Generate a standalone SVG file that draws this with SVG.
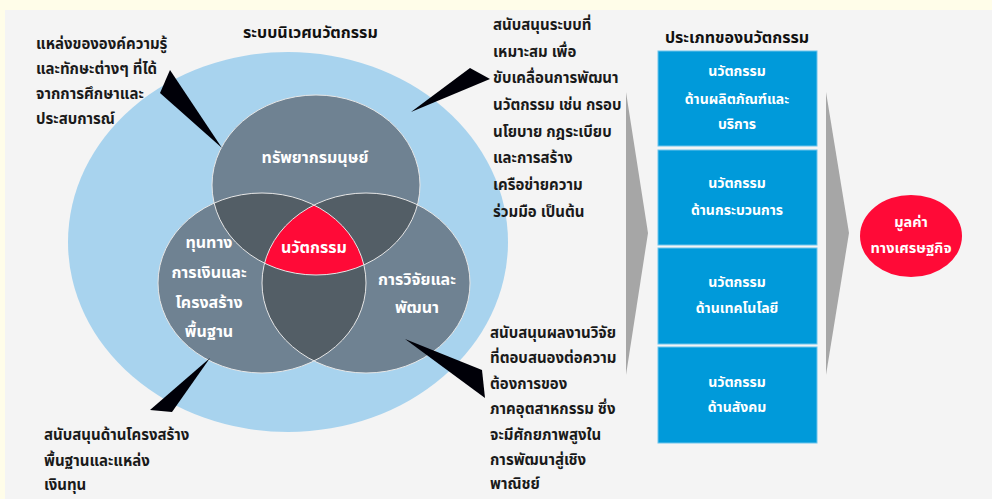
<svg xmlns="http://www.w3.org/2000/svg" width="992" height="499" viewBox="0 0 992 499">
<style>
text{font-family:"Noto Sans Thai","Noto Sans","DejaVu Sans",sans-serif;font-weight:bold;font-size:15px}
.dk{fill:#1a1a1a}
.wt{fill:#ffffff;text-anchor:middle}
.cl{font-size:16px}
.bx{font-size:14px}
.ttl{fill:#111111;font-size:16px}
.box{fill:#009ADA;stroke:#6CC4EC;stroke-width:1}
.circ{fill:#6F8292}
.ov{fill:#535E66}
.edge{fill:none;stroke:#E6E6E6;stroke-width:1}
.wedge{fill:#000008}
.arr{fill:#A6A6A6}
</style>
<defs>
<clipPath id="cT"><ellipse cx="316" cy="185" rx="104" ry="90"/></clipPath>
<clipPath id="cL"><ellipse cx="262" cy="283" rx="104" ry="90"/></clipPath>
<clipPath id="cR"><ellipse cx="366" cy="283" rx="104" ry="90"/></clipPath>
</defs>
<rect x="0" y="0" width="992" height="499" fill="#FFFDE9"/>
<rect x="5" y="10" width="987" height="489" fill="#F4F4F4"/>

<g id="ecosystem">
<ellipse cx="288" cy="242" rx="220" ry="190" fill="#A8D3EE"/>
<text class="ttl" x="243" y="38">ระบบนิเวศนวัตกรรม</text>
</g>

<g id="venn">
<g id="human-resources">
<ellipse class="circ" cx="316" cy="185" rx="104" ry="90"/>
</g>
<g id="finance-infrastructure">
<ellipse class="circ" cx="262" cy="283" rx="104" ry="90"/>
</g>
<g id="research-development">
<ellipse class="circ" cx="366" cy="283" rx="104" ry="90"/>
</g>
<ellipse class="ov" cx="262" cy="283" rx="104" ry="90" clip-path="url(#cT)"/>
<ellipse class="ov" cx="366" cy="283" rx="104" ry="90" clip-path="url(#cT)"/>
<ellipse class="ov" cx="366" cy="283" rx="104" ry="90" clip-path="url(#cL)"/>
<g id="innovation" clip-path="url(#cT)">
<ellipse cx="366" cy="283" rx="104" ry="90" fill="#FF0A37" clip-path="url(#cL)"/>
</g>
<ellipse class="edge" cx="316" cy="185" rx="104" ry="90"/>
<ellipse class="edge" cx="262" cy="283" rx="104" ry="90"/>
<ellipse class="edge" cx="366" cy="283" rx="104" ry="90"/>
<text class="wt cl" x="315" y="163">ทรัพยากรมนุษย์</text>
<text class="wt cl" x="314" y="253">นวัตกรรม</text>
<text class="wt cl" x="209" y="248">ทุนทาง</text>
<text class="wt cl" x="209" y="278">การเงินและ</text>
<text class="wt cl" x="209" y="308">โครงสร้าง</text>
<text class="wt cl" x="209" y="337">พื้นฐาน</text>
<text class="wt cl" x="417" y="285">การวิจัยและ</text>
<text class="wt cl" x="417" y="313">พัฒนา</text>
</g>

<g id="note-knowledge">
<text class="dk" x="36" y="49">แหล่งขององค์ความรู้</text>
<text class="dk" x="36" y="74">และทักษะต่างๆ ที่ได้</text>
<text class="dk" x="36" y="99">จากการศึกษาและ</text>
<text class="dk" x="36" y="124">ประสบการณ์</text>
</g>
<g id="note-system">
<text class="dk" x="493" y="30">สนับสนุนระบบที่</text>
<text class="dk" x="493" y="57">เหมาะสม เพื่อ</text>
<text class="dk" x="493" y="83">ขับเคลื่อนการพัฒนา</text>
<text class="dk" x="493" y="110">นวัตกรรม เช่น กรอบ</text>
<text class="dk" x="493" y="137">นโยบาย กฎระเบียบ</text>
<text class="dk" x="493" y="163">และการสร้าง</text>
<text class="dk" x="493" y="190">เครือข่ายความ</text>
<text class="dk" x="493" y="217">ร่วมมือ เป็นต้น</text>
</g>
<g id="note-infrastructure">
<text class="dk" x="44" y="440">สนับสนุนด้านโครงสร้าง</text>
<text class="dk" x="44" y="466">พื้นฐานและแหล่ง</text>
<text class="dk" x="44" y="490">เงินทุน</text>
</g>
<g id="note-research">
<text class="dk" x="490" y="338">สนับสนุนผลงานวิจัย</text>
<text class="dk" x="490" y="363">ที่ตอบสนองต่อความ</text>
<text class="dk" x="490" y="389">ต้องการของ</text>
<text class="dk" x="490" y="414">ภาคอุตสาหกรรม ซึ่ง</text>
<text class="dk" x="490" y="440">จะมีศักยภาพสูงใน</text>
<text class="dk" x="490" y="465">การพัฒนาสู่เชิง</text>
<text class="dk" x="490" y="489">พาณิชย์</text>
</g>

<g id="types">
<text class="ttl" x="737" y="43" text-anchor="middle">ประเภทของนวัตกรรม</text>
<g id="type-product">
<rect class="box" x="658" y="51" width="159" height="95"/>
<text class="wt bx" x="737" y="76">นวัตกรรม</text>
<text class="wt bx" x="737" y="104">ด้านผลิตภัณฑ์และ</text>
<text class="wt bx" x="737" y="129">บริการ</text>
</g>
<g id="type-process">
<rect class="box" x="658" y="150" width="159" height="95"/>
<text class="wt bx" x="737" y="188">นวัตกรรม</text>
<text class="wt bx" x="737" y="215">ด้านกระบวนการ</text>
</g>
<g id="type-technology">
<rect class="box" x="658" y="248" width="159" height="96"/>
<text class="wt bx" x="737" y="287">นวัตกรรม</text>
<text class="wt bx" x="737" y="313">ด้านเทคโนโลยี</text>
</g>
<g id="type-social">
<rect class="box" x="658" y="347" width="159" height="96"/>
<text class="wt bx" x="737" y="387">นวัตกรรม</text>
<text class="wt bx" x="737" y="412">ด้านสังคม</text>
</g>
</g>

<g id="economic-value">
<ellipse cx="911" cy="236" rx="51" ry="41" fill="#FF0A37"/>
<text class="wt" x="911" y="227" style="font-size:14.5px">มูลค่า</text>
<text class="wt" x="911" y="253" style="font-size:14.5px">ทางเศรษฐกิจ</text>
</g>

<g id="connectors">
<polygon class="wedge" points="170,70 160,93 222,148"/>
<polygon class="wedge" points="470,68 490,79 411,112"/>
<polygon class="wedge" points="210,358 150,410 172,412"/>
<polygon class="wedge" points="405,339 482,370 485,398"/>
<polygon class="arr" points="626,92 648,233 626,375"/>
<polygon class="arr" points="826,92 849,233 826,375"/>
</g>
</svg>
